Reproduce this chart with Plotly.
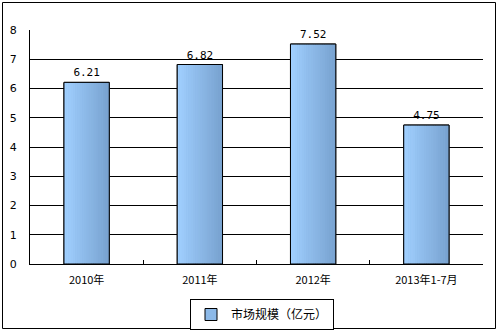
import plotly.graph_objects as go

categories = ["2010年", "2011年", "2012年", "2013年1-7月"]
values = [6.21, 6.82, 7.52, 4.75]
value_labels = ["6.21", "6.82", "7.52", "4.75"]
series_name = "市场规模（亿元）"

W, H = 499, 331
L, R, T, B = 30, 16, 30, 67
pw, ph = W - L - R, H - T - B

def px_x(p):
    return (p - L) / pw

def px_y(p):
    return (H - B - p) / ph

c0 = (160, 207, 255)
c1 = (120, 162, 207)
N = 20
bw = 0.4

fig = go.Figure()
# base bar (for legend & fill)
fig.add_trace(go.Bar(
    x=categories, y=values, name=series_name, width=bw, offset=-bw / 2,
    marker=dict(color="rgb(140,185,232)", line=dict(color="black", width=1)),
    showlegend=True, hoverinfo="skip"))
for i in range(N):
    t = i / (N - 1)
    col = tuple(round(c0[k] + (c1[k] - c0[k]) * t) for k in range(3))
    fig.add_trace(go.Bar(
        x=categories, y=values, width=bw / N + 0.002, offset=-bw / 2 + i * bw / N,
        marker=dict(color="rgb(%d,%d,%d)" % col, line=dict(width=0)),
        showlegend=False, hoverinfo="skip"))
fig.add_trace(go.Bar(
    x=categories, y=values, width=bw, offset=-bw / 2,
    marker=dict(color="rgba(0,0,0,0)", line=dict(color="black", width=1)),
    text=value_labels, textposition="outside", cliponaxis=False,
    textfont=dict(family="DejaVu Sans Mono", size=11, color="black"),
    showlegend=False, hoverinfo="skip"))

fig.update_layout(
    width=W, height=H, margin=dict(l=L, r=R, t=T, b=B, autoexpand=False),
    paper_bgcolor="white", plot_bgcolor="white",
    barmode="overlay",
    font=dict(family="Noto Sans CJK SC", size=11, color="black"),
    xaxis=dict(type="category", showline=True, linecolor="black", linewidth=1,
               ticks="inside", ticklen=4, tickcolor="black", tickson="boundaries",
               showgrid=False, ticklabelstandoff=6,
               tickfont=dict(family="Noto Sans CJK SC", size=11, color="black")),
    yaxis=dict(range=[0, 8], dtick=1, showline=True, linecolor="black", linewidth=1,
               showgrid=True, gridcolor="black", gridwidth=1, zeroline=False,
               ticks="", ticklabelstandoff=10,
               tickfont=dict(family="DejaVu Sans", size=11, color="black")),
    legend=dict(x=px_x(190), y=px_y(299), xanchor="left", yanchor="top",
                orientation="h", bordercolor="black", borderwidth=1, bgcolor="white",
                font=dict(family="Noto Sans CJK SC", size=12, color="black"),
                itemwidth=30, tracegroupgap=0),
    shapes=[dict(type="rect", xref="paper", yref="paper",
                 x0=px_x(2.5), x1=px_x(495.5), y0=px_y(328.5), y1=px_y(2.5),
                 line=dict(color="black", width=1), layer="above")],
)

fig.write_html("out.html")
